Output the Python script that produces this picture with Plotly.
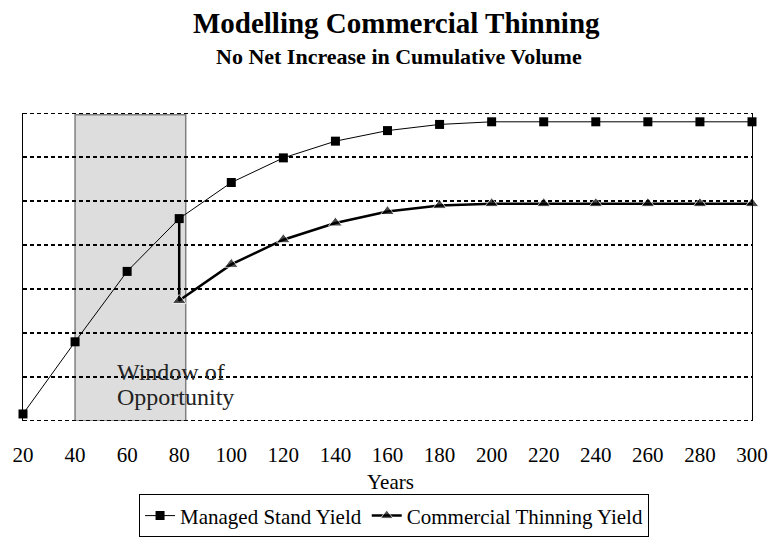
import plotly.graph_objects as go

years = [20, 40, 60, 80, 100, 120, 140, 160, 180, 200, 220, 240, 260, 280, 300]
managed_yield = [8, 90, 170, 230, 271, 299, 318, 330, 337, 340, 340, 340, 340, 340, 340]

thin_years = [80, 80, 100, 120, 140, 160, 180, 200, 220, 240, 260, 280, 300]
thin_yield = [230, 137, 178, 206, 225, 238, 245, 247, 247, 247, 247, 247, 247]
thin_marker_sizes = [0] + [12] * (len(thin_years) - 1)

window_start, window_end = 40, 82.5
y_min, y_max = 0, 350
tick_vals = list(range(20, 301, 20))

FONT = "Liberation Serif, Times New Roman, serif"
DASH = "4px,3px"

fig = go.Figure()

fig.add_shape(type="rect", xref="x", yref="y",
              x0=window_start, x1=window_end, y0=y_min, y1=348,
              fillcolor="#dddddd", line=dict(color="#808080", width=1.5),
              layer="below")
# dotted top and bottom borders of the plot frame
for yv in (y_min, y_max):
    fig.add_shape(type="line", xref="paper", yref="y", x0=0, x1=1, y0=yv, y1=yv,
                  line=dict(color="black", width=2, dash=DASH), layer="above")

fig.add_trace(go.Scatter(
    x=years, y=managed_yield, mode="lines+markers",
    name="Managed Stand Yield",
    line=dict(color="black", width=1),
    marker=dict(symbol="square", size=9, color="black"),
    cliponaxis=False,
))
fig.add_trace(go.Scatter(
    x=thin_years, y=thin_yield, mode="lines+markers",
    name="Commercial Thinning Yield",
    line=dict(color="black", width=2.5),
    marker=dict(symbol="triangle-up", size=thin_marker_sizes, color="black"),
    cliponaxis=False,
))

fig.add_annotation(x=55.5, y=55.7, xref="x", yref="y", text="Window of",
                   showarrow=False, xanchor="left", yanchor="middle",
                   font=dict(family=FONT, size=24, color="#222"))
fig.add_annotation(x=55.5, y=26.8, xref="x", yref="y", text="Opportunity",
                   showarrow=False, xanchor="left", yanchor="middle",
                   font=dict(family=FONT, size=24, color="#222"))

fig.add_annotation(x=0.516, y=(440 - 53) / 327, xref="paper", yref="paper",
                   text="<b>No Net Increase in Cumulative Volume</b>",
                   showarrow=False, xanchor="center", yanchor="middle",
                   font=dict(family=FONT, size=22, color="black"))
fig.add_annotation(x=0.504, y=(440 - 505) / 327, xref="paper", yref="paper",
                   text="Years", showarrow=False, xanchor="center", yanchor="middle",
                   font=dict(family=FONT, size=21, color="black"))

fig.update_layout(
    width=780, height=550,
    margin=dict(l=21, r=17, t=113, b=110),
    paper_bgcolor="white", plot_bgcolor="white",
    font=dict(family=FONT, color="black", size=21),
    title=dict(text="<b>Modelling Commercial Thinning</b>",
               x=0.508, xanchor="center", y=1 - 23 / 550, yanchor="middle",
               font=dict(family=FONT, size=29, color="black")),
    showlegend=True,
    legend=dict(orientation="h", x=0.509, xanchor="center",
                y=-0.2385, yanchor="top",
                bordercolor="black", borderwidth=1,
                font=dict(family=FONT, size=21, color="black"),
                itemwidth=30, tracegroupgap=0),
)

fig.update_xaxes(range=[20, 300], tickvals=tick_vals, showgrid=False,
                 zeroline=False, showline=False,
                 ticks="outside", ticklen=15, tickcolor="rgba(0,0,0,0)",
                 tickfont=dict(family=FONT, size=21))
fig.update_yaxes(range=[y_min, y_max], dtick=50, showticklabels=False,
                 showgrid=True, gridcolor="black", gridwidth=2,
                 griddash=DASH, zeroline=False,
                 showline=True, linecolor="black", linewidth=1, mirror=True,
                 ticks="")

fig.write_html("out.html", config={"displayModeBar": False},
               post_script="document.body.style.margin='0';")
